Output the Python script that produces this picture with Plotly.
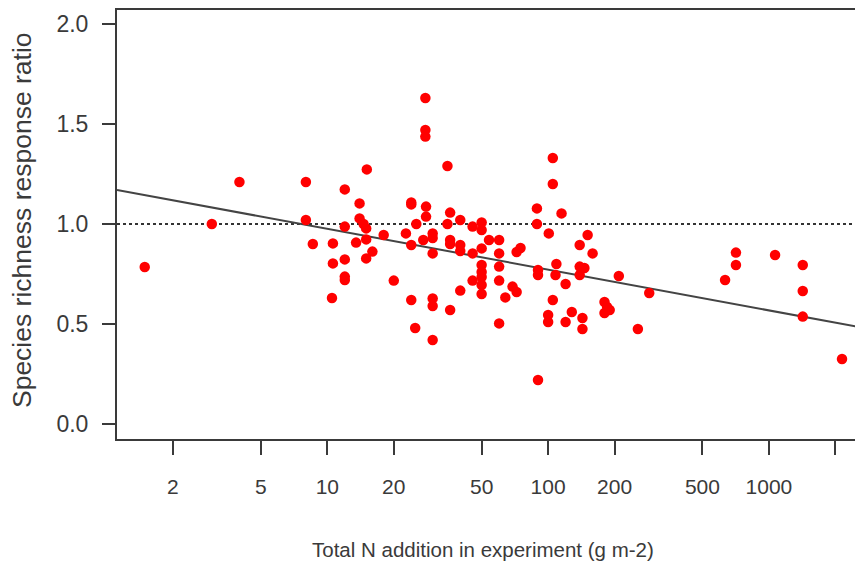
import numpy as np
import plotly.graph_objects as go

# Total N addition (g m-2) and species richness response ratio
n_addition = [
    1.49, 3.0, 4.0, 8.0, 8.0, 8.6, 10.6, 10.6, 10.5, 12, 12, 12, 12, 12,
    13.5, 14, 14, 14.6, 15, 15, 15.1, 15, 16, 18, 20, 22.7, 24, 24, 24, 25.3,
    24, 25, 27.8, 27.8, 27.8, 28, 28, 27.2, 30, 30, 30, 30, 30, 30,
    35, 36, 35, 36, 36, 36, 40, 40, 40, 40, 45.5, 45.5, 45.5,
    50, 50, 50, 50, 50, 50, 50, 50, 54, 60, 60, 60, 60, 60, 64, 69, 72, 72, 75,
    89, 89, 90, 90, 90, 100.7, 105, 105, 115, 109, 108, 120, 105, 100, 100, 120,
    128, 143, 143, 139, 151, 159, 139, 146, 139, 180, 185, 190, 180, 209, 255, 287,
    633, 709, 709, 1066, 1423, 1423, 1423, 2143,
]
richness_ratio = [
    0.785, 1.0, 1.21, 1.21, 1.02, 0.90, 0.903, 0.803, 0.63, 1.173, 0.987, 0.823, 0.737, 0.72,
    0.907, 1.103, 1.028, 1.0, 0.978, 0.923, 1.273, 0.828, 0.862, 0.945, 0.717, 0.953, 1.098, 1.108, 0.895, 1.0,
    0.62, 0.48, 1.63, 1.47, 1.437, 1.087, 1.037, 0.92, 0.953, 0.93, 0.853, 0.628, 0.59, 0.42,
    1.29, 1.057, 1.0, 0.92, 0.90, 0.57, 1.02, 0.895, 0.865, 0.667, 0.987, 0.853, 0.717,
    1.008, 0.97, 0.878, 0.795, 0.76, 0.735, 0.695, 0.65, 0.92, 0.92, 0.853, 0.787, 0.717, 0.503, 0.633, 0.687, 0.66, 0.86, 0.88,
    1.078, 1.0, 0.77, 0.745, 0.22, 0.953, 1.33, 1.20, 1.053, 0.80, 0.745, 0.70, 0.62, 0.545, 0.51, 0.51,
    0.56, 0.53, 0.475, 0.895, 0.945, 0.853, 0.787, 0.78, 0.745, 0.61, 0.585, 0.57, 0.555, 0.74, 0.475, 0.655,
    0.72, 0.857, 0.795, 0.845, 0.795, 0.665, 0.537, 0.325,
]

# Fitted regression: ratio = intercept + slope * log10(N)
fit_intercept = 1.18
fit_slope = -0.204

x_tick_vals = [2, 5, 10, 20, 50, 100, 200, 500, 1000, 2000]
x_tick_text = ["2", "5", "10", "20", "50", "100", "200", "500", "1000", ""]
y_tick_vals = [0.0, 0.5, 1.0, 1.5, 2.0]
y_tick_text = ["0.0", "0.5", "1.0", "1.5", "2.0"]

x_title = "Total N addition in experiment (g m-2)"
y_title = "Species richness response ratio"

x_log_range = [0.0476, 3.426]
y_range = [-0.075, 2.07]

FONT = "Liberation Sans, Arial, sans-serif"
INK = "#3a3a3a"

line_x = [10 ** x_log_range[0], 10 ** x_log_range[1]]
line_y = [fit_intercept + fit_slope * np.log10(v) for v in line_x]

fig = go.Figure()
fig.add_trace(go.Scatter(
    x=line_x, y=[1.0, 1.0], mode="lines",
    line=dict(color="#333333", width=2, dash="dot"), hoverinfo="skip", showlegend=False,
))
fig.add_trace(go.Scatter(
    x=line_x, y=line_y, mode="lines",
    line=dict(color="#444444", width=2), hoverinfo="skip", showlegend=False,
))
fig.add_trace(go.Scatter(
    x=n_addition, y=richness_ratio, mode="markers",
    marker=dict(color="#ff0000", size=10.5, line=dict(width=0)), showlegend=False,
))

# page body has an 8px offset, so the figure is sized/margined to compensate
fig.update_layout(
    width=855, height=559,
    margin=dict(l=109, r=0, t=2, b=128, autoexpand=False),
    paper_bgcolor="white", plot_bgcolor="white",
    font=dict(family=FONT, color=INK, size=22),
    xaxis=dict(
        type="log", range=x_log_range, automargin=False,
        tickmode="array", tickvals=x_tick_vals, ticktext=x_tick_text,
        ticks="outside", ticklen=14, tickwidth=1.5, tickcolor=INK,
        showline=True, linecolor=INK, linewidth=2, mirror=True,
        showgrid=False, zeroline=False,
        tickfont=dict(size=21), ticklabelstandoff=14,
    ),
    yaxis=dict(
        range=y_range, automargin=False,
        tickmode="array", tickvals=y_tick_vals, ticktext=y_tick_text,
        ticks="outside", ticklen=13, tickwidth=1.5, tickcolor=INK,
        showline=True, linecolor=INK, linewidth=2, mirror=False,
        showgrid=False, zeroline=False,
        tickfont=dict(size=23), ticklabelstandoff=9,
    ),
    annotations=[
        dict(text=x_title, xref="paper", yref="paper", x=0.4906, y=-0.2587,
             xanchor="center", yanchor="middle", showarrow=False, font=dict(size=20.5)),
        dict(text=y_title, xref="paper", yref="paper", x=-0.1273, y=0.5105,
             xanchor="center", yanchor="middle", textangle=-90, showarrow=False, font=dict(size=26.5)),
    ],
)

fig.write_html("out.html")
